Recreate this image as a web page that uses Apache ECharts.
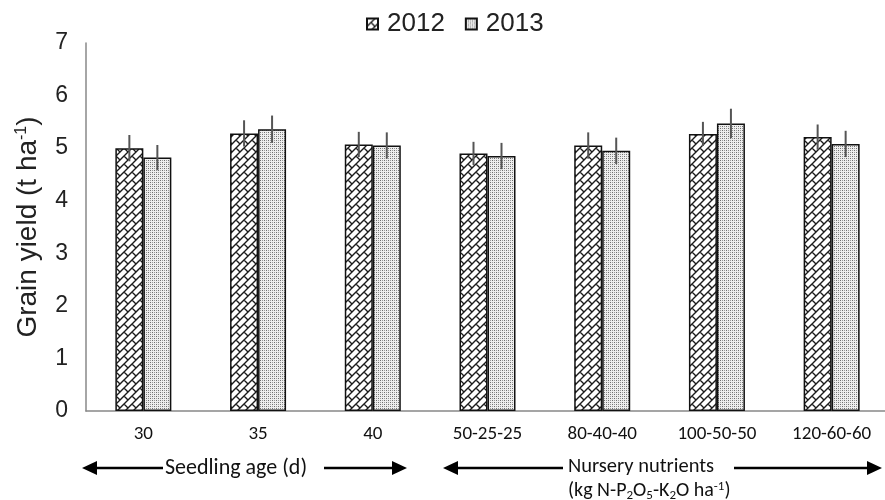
<!DOCTYPE html>
<html><head><meta charset="utf-8">
<script src="https://cdn.jsdelivr.net/npm/echarts@6/dist/echarts.min.js"></script>
<style>html,body{margin:0;padding:0;background:#fff}#c{width:885px;height:500px}</style>
</head><body><div id="c"></div>
<script>
const categories = ['30','35','40','50-25-25','80-40-40','100-50-50','120-60-60'];
const seriesNames = ['2012','2013'];
const yield2012 = [5.00, 5.28, 5.07, 4.90, 5.05, 5.27, 5.21];
const yield2013 = [4.82, 5.36, 5.05, 4.85, 4.95, 5.47, 5.08];
const err2012 = [0.25, 0.25, 0.24, 0.22, 0.25, 0.23, 0.24];
const err2013 = [0.24, 0.26, 0.25, 0.25, 0.25, 0.28, 0.25];
const yTicks = [0,1,2,3,4,5,6,7];

function brickPattern(){
  const s=8, c=document.createElement('canvas'); c.width=s; c.height=s;
  const x=c.getContext('2d');
  x.fillStyle='#fff'; x.fillRect(0,0,s,s);
  x.strokeStyle='#1a1a1a'; x.lineWidth=1.4;
  x.beginPath();
  x.moveTo(-1,9); x.lineTo(9,-1);
  x.moveTo(-2,2); x.lineTo(2,-2);
  x.moveTo(6,10); x.lineTo(10,6);
  x.moveTo(4,4); x.lineTo(8,8);
  x.stroke();
  return c;
}
function dotPattern(){
  const s=4, c=document.createElement('canvas'); c.width=s; c.height=s;
  const x=c.getContext('2d');
  x.fillStyle='#eeeeee'; x.fillRect(0,0,s,s);
  x.fillStyle='#6e6e6e'; x.fillRect(0,0,1,1); x.fillRect(2,2,1,1);
  x.fillStyle='#9a9a9a'; x.fillRect(2,0,1,1); x.fillRect(0,2,1,1);
  return c;
}
const pat2012={image:brickPattern(),repeat:'repeat'};
const pat2013={image:dotPattern(),repeat:'repeat'};

const BW=28;
function errSeries(vals, errs, side){
  return {
    type:'custom', silent:true, z:5,
    data: vals.map((v,i)=>[i, v-errs[i], v+errs[i]]),
    renderItem:function(params, api){
      const lo=api.coord([api.value(0), api.value(1)]);
      const hi=api.coord([api.value(0), api.value(2)]);
      const xx=lo[0]+side*BW/2;
      return {type:'line', shape:{x1:xx,y1:lo[1],x2:xx,y2:hi[1]},
        style:{stroke:'#555',lineWidth:2}};
    }
  };
}

const chart=echarts.init(document.getElementById('c'),null,{renderer:'canvas'});
const narrow='Carlito,"Liberation Sans Narrow","DejaVu Sans Condensed",sans-serif';
const arial='"Liberation Sans",Arial,sans-serif';
chart.setOption({
  animation:false,
  backgroundColor:'#fff',
  legend:{
    data:seriesNames, left:361, top:6, itemWidth:11, itemHeight:11, itemGap:20,
    icon:'rect',
    textStyle:{fontFamily:arial,fontSize:26,color:'#222',padding:[0,0,0,4]}
  },
  grid:{left:86, top:43, right:-4, bottom:89, containLabel:false, outerBoundsMode:'none'},
  xAxis:{
    type:'category', data:categories,
    axisLine:{lineStyle:{color:'#888',width:1.5}},
    axisTick:{show:false},
    axisLabel:{fontFamily:narrow,fontSize:19,color:'#111',margin:14,interval:0}
  },
  yAxis:{
    type:'value', min:0, max:7, interval:1,
    splitLine:{show:false},
    axisLine:{show:true,lineStyle:{color:'#888',width:1.5}},
    axisTick:{show:false},
    axisLabel:{fontFamily:arial,fontSize:23,color:'#222',margin:18,
      formatter:function(v){return yTicks.indexOf(v)>=0?String(v):'';}},
    name:'Grain yield (t ha{sup|-1})',
    nameLocation:'middle', nameGap:44,
    nameTextStyle:{fontFamily:arial,fontSize:28,color:'#222',
      rich:{sup:{fontSize:16,verticalAlign:'top',padding:[0,0,12,0],fontFamily:arial,color:'#222'}}}
  },
  series:[
    {name:seriesNames[0], type:'bar', data:yield2012, barWidth:BW, barGap:'0%',
      itemStyle:{color:pat2012, borderColor:'#111', borderWidth:1.5}},
    {name:seriesNames[1], type:'bar', data:yield2013, barWidth:BW, barGap:'0%',
      itemStyle:{color:pat2013, borderColor:'#111', borderWidth:1.5}},
    errSeries(yield2012, err2012, -1),
    errSeries(yield2013, err2013, 1)
  ],
  graphic:[
    {type:'polygon',shape:{points:[[82,468],[97,461],[97,475]]},style:{fill:'#000'}},
    {type:'line',shape:{x1:95,y1:468,x2:163,y2:468},style:{stroke:'#000',lineWidth:2.5}},
    {type:'text',x:165,y:468,style:{text:'Seedling age (d)',fontFamily:narrow,fontSize:22,fill:'#111',verticalAlign:'middle'}},
    {type:'line',shape:{x1:324,y1:468,x2:395,y2:468},style:{stroke:'#000',lineWidth:2.5}},
    {type:'polygon',shape:{points:[[407,468],[392,461],[392,475]]},style:{fill:'#000'}},
    {type:'polygon',shape:{points:[[443,468],[458,461],[458,475]]},style:{fill:'#000'}},
    {type:'line',shape:{x1:456,y1:468,x2:563,y2:468},style:{stroke:'#000',lineWidth:2.5}},
    {type:'text',x:568,y:467,style:{text:'Nursery nutrients',fontFamily:narrow,fontSize:20.5,fill:'#111',verticalAlign:'middle'}},
    {type:'line',shape:{x1:734,y1:468,x2:870,y2:468},style:{stroke:'#000',lineWidth:2.5}},
    {type:'polygon',shape:{points:[[882,468],[867,461],[867,475]]},style:{fill:'#000'}},
    {type:'text',x:568,y:491,style:{
      text:'(kg N-P{sub|2}O{sub|5}-K{sub|2}O ha{sup|-1})',fontFamily:narrow,fontSize:20,fill:'#111',verticalAlign:'middle',
      rich:{sub:{fontSize:13,fontFamily:narrow,fill:'#111',padding:[9,0,0,0]},sup:{fontSize:13,fontFamily:narrow,fill:'#111',padding:[0,0,9,0]}}
    }}
  ]
});
</script></body></html>
